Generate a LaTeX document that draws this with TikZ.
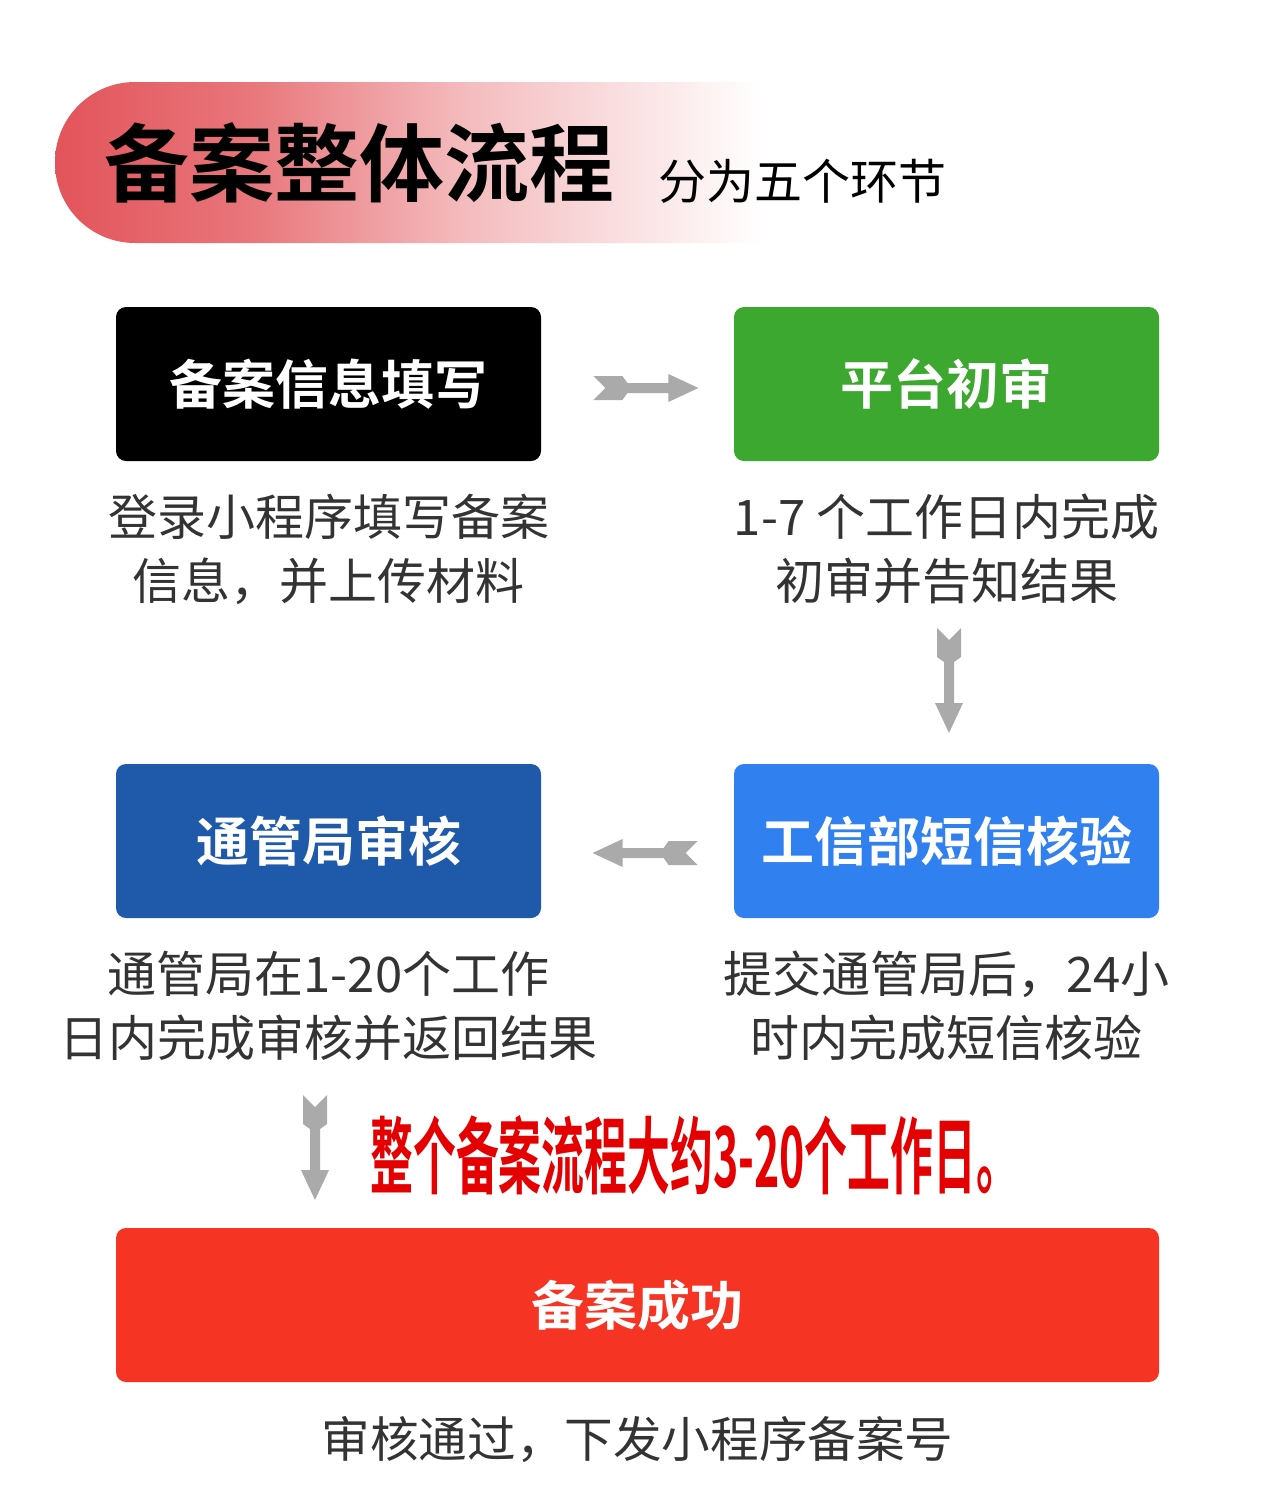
\documentclass[tikz,border=0pt]{standalone}
\usepackage{fontspec}
\setmainfont{Noto Sans CJK SC}[BoldFont={* Bold}]
\usetikzlibrary{calc}
\definecolor{headred}{RGB}{226,84,90}
\definecolor{boxgreen}{RGB}{61,168,47}
\definecolor{boxdblue}{RGB}{31,89,170}
\definecolor{boxlblue}{RGB}{48,128,240}
\definecolor{boxred}{RGB}{245,52,36}
\definecolor{arrowgray}{RGB}{170,170,170}
\definecolor{redtext}{RGB}{228,0,0}
\definecolor{captext}{RGB}{51,51,51}
\pgfdeclarehorizontalshading{bandshade}{100bp}{color(0bp)=(headred); color(25bp)=(headred);
  color(36bp)=(headred!80!white); color(48bp)=(headred!40!white); color(65bp)=(white); color(100bp)=(white)}
\tikzset{
  stepbox/.style={rounded corners=5pt, minimum width=212.5pt, minimum height=77pt, inner sep=0pt,
    text=white, font=\bfseries\fontsize{26.5}{30}\selectfont},
  captxt/.style={text=captext, font=\fontsize{24.5}{32}\selectfont, align=center, inner sep=0pt},
  fletch/.pic={\fill[arrowgray] (0,-12) -- (29,-12) -- (34,-5) -- (75,-5) -- (75,-14) -- (105,0)
     -- (75,14) -- (75,5) -- (34,5) -- (29,12) -- (0,12) -- (12,0) -- cycle;}
}
\begin{document}
\begin{tikzpicture}[x=0.5pt,y=-0.5pt]
\useasboundingbox[fill=white] (0,0) rectangle (1284,1489);
% header band
\shade[shading=bandshade, rounded corners=40pt] (55,82) rectangle (940,243);
\node[anchor=west, inner sep=0pt, font=\bfseries\fontsize{42.5}{48}\selectfont] (title) at (104,163) {备案整体流程};
\node[anchor=west, inner sep=0pt, font=\fontsize{24}{28}\selectfont] (sub) at (658,181) {分为五个环节};
% boxes
\node[stepbox, fill=black] (b1) at (328.5,384) {备案信息填写};
\node[stepbox, fill=boxgreen] (b2) at (946.5,384) {平台初审};
\node[stepbox, fill=boxdblue] (b3) at (328.5,841) {通管局审核};
\node[stepbox, fill=boxlblue] (b4) at (946.5,841) {工信部短信核验};
\node[stepbox, fill=boxred, minimum width=521.5pt] (b5) at (637.5,1305) {备案成功};
% captions
\node[captxt, anchor=north] (c1) at ($(b1.south)+(0,32)$) {登录小程序填写备案\\信息，并上传材料};
\node[captxt, anchor=north] (c2) at ($(b2.south)+(0,32)$) {1-7 个工作日内完成\\初审并告知结果};
\node[captxt, anchor=north] (c3) at ($(b3.south)+(0,32)$) {通管局在1-20个工作\\日内完成审核并返回结果};
\node[captxt, anchor=north] (c4) at ($(b4.south)+(0,32)$) {提交通管局后，24小\\时内完成短信核验};
\node[captxt, anchor=north, font=\fontsize{24.3}{32}\selectfont] (c5) at ($(b5.south)+(0,34)$) {审核通过，下发小程序备案号};
% note
\node[anchor=west, inner sep=0pt, text=redtext, font=\bfseries\fontsize{42}{48}\selectfont] (note) at (370,1155)
  {\scalebox{0.51}[1]{整个备案流程大约3-20个工作日。}};
% arrows
\pic at ($(b1.east)+(52,4)$) {fletch};
\pic[rotate=-90] at (949,628) {fletch};
\pic[rotate=180] at ($(b4.west)+(-36,12)$) {fletch};
\pic[rotate=-90] at (315,1095) {fletch};
\end{tikzpicture}
\end{document}
